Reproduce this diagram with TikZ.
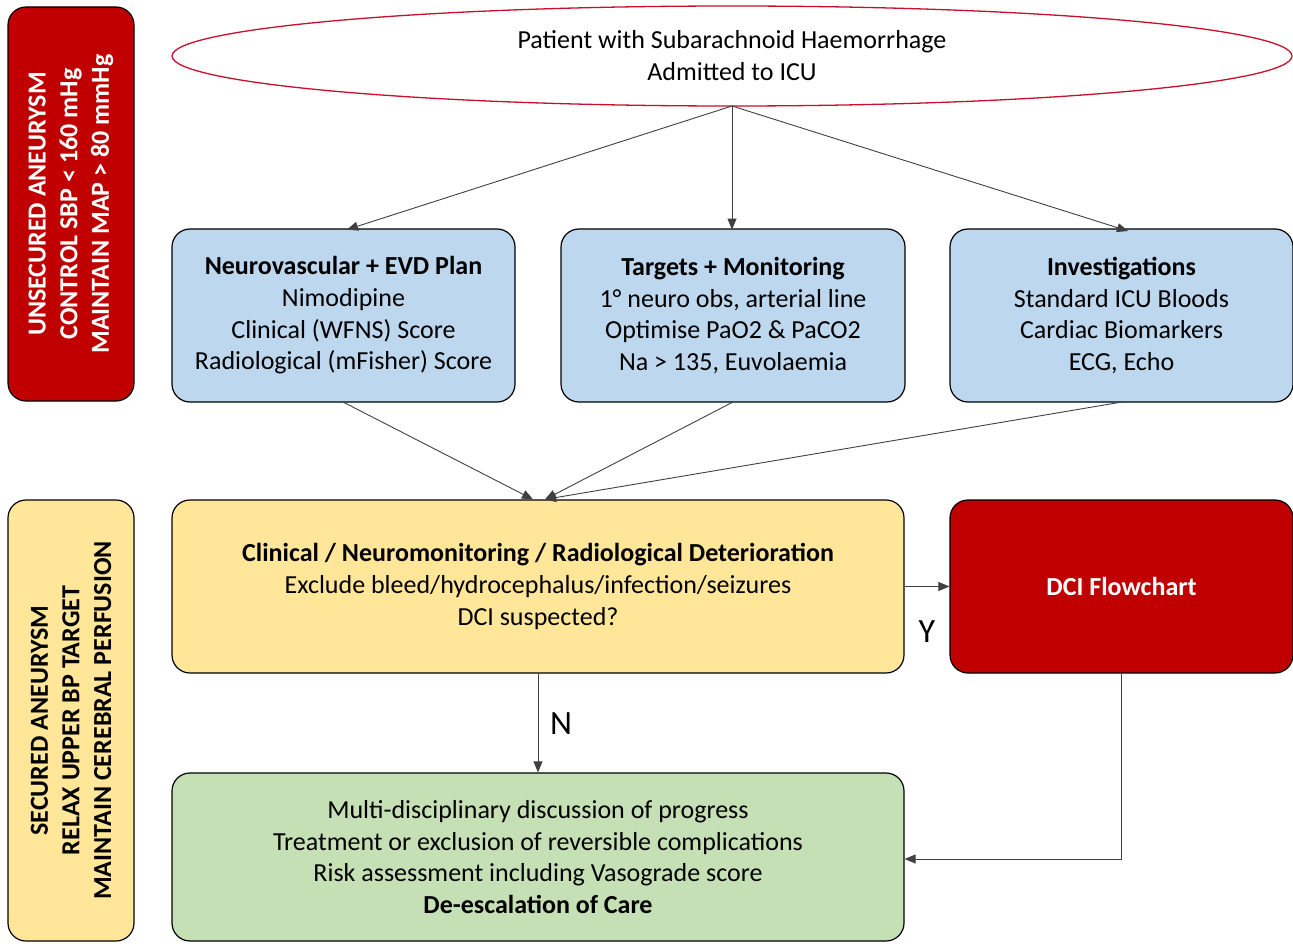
\documentclass[tikz,border=0pt]{standalone}
\usepackage{fontspec}
\setmainfont{Carlito}
\usetikzlibrary{arrows.meta,shapes.geometric}
\definecolor{dred}{HTML}{C00000}
\definecolor{lyellow}{HTML}{FFE699}
\definecolor{lblue}{HTML}{BDD7EE}
\definecolor{lgreen}{HTML}{C5E0B4}
\definecolor{ered}{HTML}{C8102E}
\tikzset{
  box/.style={draw=black, line width=1.2pt, rounded corners=18pt, align=center, inner sep=0pt,
    font=\fontsize{26}{31.6}\selectfont},
  side/.style={box, rotate=90, font=\fontsize{26}{31.6}\selectfont\bfseries},
  conn/.style={draw=black!75, line width=0.9pt, -{Triangle[length=11pt,width=9pt]}},
  yn/.style={font=\fontsize{34}{38}\selectfont, inner sep=0pt}
}
\begin{document}
\begin{tikzpicture}[x=1pt,y=-1pt]
\useasboundingbox (0,0) rectangle (1293,944);
% side boxes
\node[side, fill=dred, text=white, minimum width=394pt, minimum height=126pt] (unsec) at (71,204)
  {UNSECURED ANEURYSM\\CONTROL SBP < 160 mHg\\MAINTAIN MAP > 80 mmHg};
\node[side, fill=lyellow, text=black, minimum width=441pt, minimum height=126pt] (sec) at (71,720.5)
  {SECURED ANEURYSM\\RELAX UPPER BP TARGET\\MAINTAIN CEREBRAL PERFUSION};
% top ellipse
\node[draw=ered, line width=1.3pt, fill=white, ellipse, minimum width=1120pt, minimum height=100pt,
  inner sep=0pt, align=center, font=\fontsize{26}{32}\selectfont] (pat) at (732,56)
  {Patient with Subarachnoid  Haemorrhage\\Admitted to ICU};
% blue boxes
\node[box, fill=lblue, minimum width=343pt, minimum height=173pt] (neuro) at (343.5,315.5)
  {\textbf{Neurovascular + EVD Plan}\\Nimodipine\\Clinical (WFNS) Score\\Radiological (mFisher) Score};
\node[box, fill=lblue, minimum width=344pt, minimum height=173pt] (targ) at (733,315.5)
  {\textbf{Targets + Monitoring}\\1° neuro obs, arterial line\\Optimise PaO2 \& PaCO2\\Na > 135, Euvolaemia};
\node[box, fill=lblue, minimum width=343pt, minimum height=173pt] (inv) at (1121.5,315.5)
  {\textbf{Investigations}\\Standard ICU Bloods\\Cardiac Biomarkers\\ECG, Echo};
% yellow
\node[box, fill=lyellow, minimum width=732pt, minimum height=173pt] (det) at (538,586.5)
  {\textbf{Clinical / Neuromonitoring / Radiological Deterioration}\\Exclude bleed/hydrocephalus/infection/seizures\\DCI suspected?};
\node[box, fill=dred, text=white, minimum width=343pt, minimum height=173pt] (dci) at (1121.5,586.5)
  {\textbf{DCI Flowchart}};
% green
\node[box, fill=lgreen, minimum width=732pt, minimum height=168pt] (deesc) at (538,857)
  {Multi-disciplinary discussion of progress\\Treatment or exclusion of reversible complications\\Risk assessment including Vasograde score\\\textbf{De-escalation of Care}};
% connectors
\coordinate (pb) at (732,106);
\draw[conn] (pb) -- (347,229.6);
\draw[conn] (pb) -- (732,229.6);
\draw[conn] (pb) -- (1128,231);
\coordinate (c1) at (533,499.4);
\coordinate (c2) at (545,499.4);
\draw[conn] (343,402) -- (c1);
\draw[conn] (733,402) -- (c2);
\draw[conn] (1122,402) -- (c2);
\draw[conn] (det.east) -- (dci.west);
\draw[conn] (det.south -| 538,0) -- (deesc.north -| 538,0);
\draw[conn] (dci.south) |- (deesc.east |- 0,859);
\node[yn] (ylab) at (927,632) {Y};
\node[yn] (nlab) at (561,724) {N};
\end{tikzpicture}
\end{document}
